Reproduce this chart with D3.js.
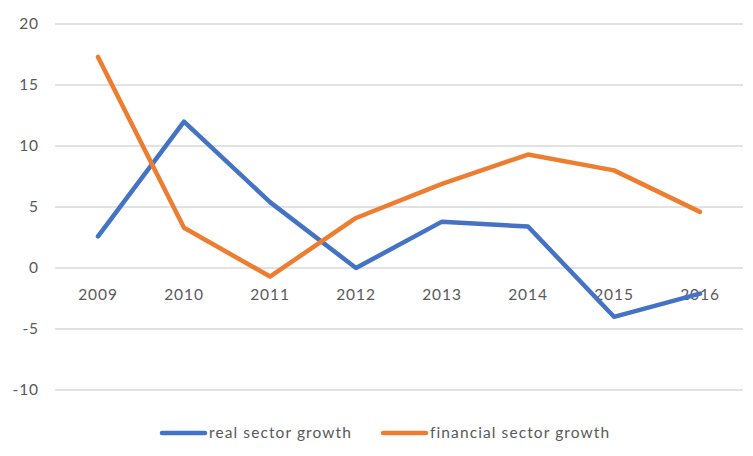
<!DOCTYPE html>
<html><head><meta charset="utf-8">
<script src="https://cdn.jsdelivr.net/npm/d3@7"></script>
<style>body{margin:0;background:#fff}svg{display:block}text{font-family:Lato,"Open Sans",sans-serif;fill:#595959}</style>
</head><body><svg id="c" width="753" height="456"></svg>
<script>
const years = ["2009","2010","2011","2012","2013","2014","2015","2016"];
const realGrowth = [2.6, 12.0, 5.4, 0.0, 3.8, 3.4, -4.0, -2.1];
const financialGrowth = [17.3, 3.3, -0.7, 4.1, 6.9, 9.3, 8.0, 4.6];
const yTicks = [-10, -5, 0, 5, 10, 15, 20];
const seriesNames = ["real sector growth", "financial sector growth"];
const colors = ["#4472C4", "#ED7D31"];

const svg = d3.select("#c");
const x = d3.scaleBand().domain(years).range([55, 743]);
const y = d3.scaleLinear().domain([-10, 20]).range([390, 24]);

svg.append("g").selectAll("line").data(yTicks).join("line")
  .attr("x1", 55).attr("x2", 743)
  .attr("y1", d => y(d)).attr("y2", d => y(d))
  .attr("stroke", "#d9d9d9").attr("stroke-width", 1.5);

const ya = svg.append("g").attr("transform", "translate(39,0)")
  .call(d3.axisLeft(y).tickValues(yTicks).tickFormat(d => String(d)).tickSize(0).tickPadding(0));
ya.select(".domain").remove();
ya.selectAll("text").attr("font-size", 15.5).style("letter-spacing", "0.9px")
  .style("font-family", "Lato,'Open Sans',sans-serif").attr("fill", "#595959");

const xa = svg.append("g").attr("transform", `translate(0,${y(0)})`)
  .call(d3.axisBottom(x).tickSize(0).tickPadding(21));
xa.select(".domain").remove();
xa.selectAll("text").attr("font-size", 15.5).style("letter-spacing", "0.9px")
  .style("font-family", "Lato,'Open Sans',sans-serif").attr("fill", "#595959");

const line = d3.line().x((d, i) => x(years[i]) + x.bandwidth() / 2).y(d => y(d));
[realGrowth, financialGrowth].forEach((s, k) => {
  svg.append("path").datum(s).attr("d", line).attr("fill", "none")
    .attr("stroke", colors[k]).attr("stroke-width", 4.5)
    .attr("stroke-linejoin", "round").attr("stroke-linecap", "round");
});

const lx = [162, 383];
seriesNames.forEach((n, k) => {
  const g = svg.append("g").attr("transform", `translate(${lx[k]},433)`);
  g.append("line").attr("x1", 0).attr("x2", 43).attr("stroke", colors[k])
    .attr("stroke-width", 4.5).attr("stroke-linecap", "round");
  g.append("text").attr("x", 47).attr("dy", "0.35em").attr("font-size", 15.5)
    .style("letter-spacing", "1.1px").text(n);
});
</script></body></html>
